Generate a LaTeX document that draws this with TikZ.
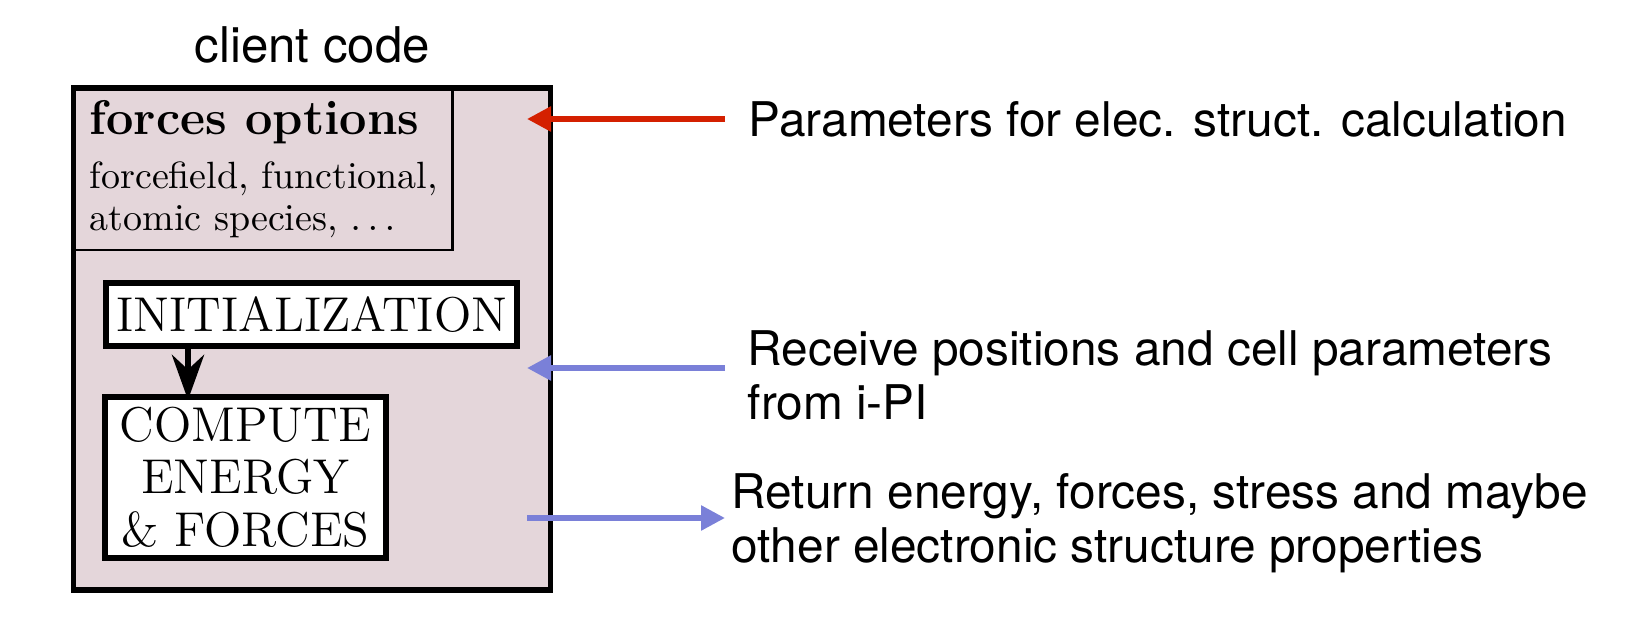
\documentclass[tikz,border=0pt]{standalone}
\usepackage{fontspec}
\newfontfamily\helv{TeX Gyre Heros}
\usetikzlibrary{arrows.meta}
\definecolor{boxfill}{RGB}{228,214,218}
\definecolor{arrred}{RGB}{212,32,0}
\definecolor{arrblue}{RGB}{122,128,216}

\begin{document}
\begin{tikzpicture}[>=Stealth,
    note/.style={font=\helv\fontsize{13.6}{15.2}\selectfont, align=left, anchor=base west, inner sep=0pt},
    stage/.style={draw, line width=1.7pt, fill=white, inner sep=0pt, align=center,
                  font=\fontsize{13.9}{14.9}\selectfont},
    feed/.style={line width=1.6pt, -{Triangle[length=0.24cm,width=0.24cm]}}]
  \useasboundingbox (0,0) rectangle (16.52,6.35);

  % client code box
  \draw[line width=1.7pt, fill=boxfill] (0.735,0.45) rectangle (5.505,5.47);
  \draw[line width=0.85pt] (0.735,5.47) rectangle (4.52,3.85);
  \node[note, font=\helv\fontsize{14}{16}\selectfont] (client) at (1.94,5.72) {client code};

  % options (base anchor = last line)
  \node[anchor=base west, inner sep=0pt, font=\fontsize{13.85}{16}\selectfont\bfseries] (optitle) at (0.89,5.00) {forces options};
  \node[anchor=base west, inner sep=0pt, align=left, font=\fontsize{10.8}{12.2}\selectfont] (optlist) at (0.89,4.04) {forcefield, functional,\\atomic species, $\ldots$};

  % stages
  \node[stage, minimum width=4.107cm, minimum height=0.633cm] (init) at (3.117,3.203) {INITIALIZATION};
  \node[stage, minimum width=2.813cm, minimum height=1.607cm] (compute) at (2.453,1.577) {COMPUTE\\ENERGY\\\& FORCES};
  \coordinate (drop) at (1.88,0);
  \draw[line width=1.9pt, -{Stealth[length=0.45cm,width=0.32cm]}, shorten >=-0.06cm] (init.south -| drop) -- (compute.north -| drop);

  % notes on the right
  \node[note] (params) at (7.48,4.98) {Parameters for elec. struct. calculation};
  \node[note] (recv) at (7.47,2.16) {Receive positions and cell parameters\\from i-PI};
  \node[note] (ret) at (7.31,0.73) {Return energy, forces, stress and maybe\\other electronic structure properties};

  \coordinate (optin) at (5.27,5.16);
  \coordinate (posin) at (5.27,2.67);
  \coordinate (enout) at (5.27,1.17);
  \draw[feed, arrred, shorten <=0.23cm] (params.west |- optin) -- (optin);
  \draw[feed, arrblue, shorten <=0.22cm] (recv.west |- posin) -- (posin);
  \draw[feed, arrblue, shorten >=0.06cm] (enout) -- (ret.west |- enout);
\end{tikzpicture}
\end{document}
